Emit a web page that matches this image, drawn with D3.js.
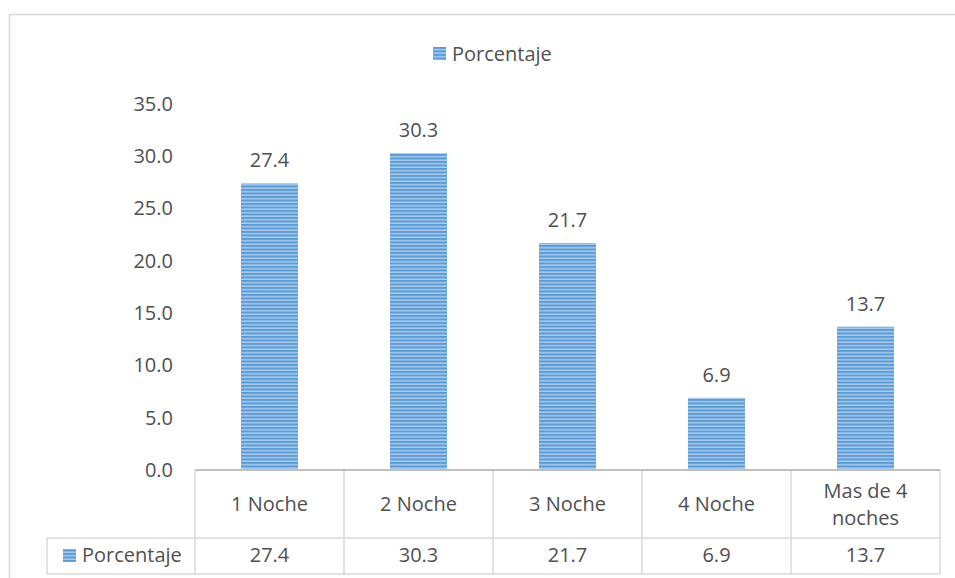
<!DOCTYPE html>
<html>
<head>
<meta charset="utf-8">
<script src="https://cdn.jsdelivr.net/npm/d3@7"></script>
<style>
  html, body { margin: 0; padding: 0; background: #fff; }
  svg { display: block; }
  text { font-family: "Open Sans", Lato, sans-serif; fill: #505050; }
</style>
</head>
<body>
<svg id="chart" width="955" height="578"></svg>
<script>
// Nights stayed, share of respondents (%)
const categories = ["1 Noche", "2 Noche", "3 Noche", "4 Noche", "Mas de 4 noches"];
const categoryLines = [["1 Noche"], ["2 Noche"], ["3 Noche"], ["4 Noche"], ["Mas de 4", "noches"]];
const values = [27.4, 30.3, 21.7, 6.9, 13.7];
const seriesName = "Porcentaje";
const yTicks = [0, 5, 10, 15, 20, 25, 30, 35];

const svg = d3.select("#chart");
const plot = { left: 195, right: 940, top: 104, bottom: 470 };
const tableRow1 = 538, tableBottom = 574, tableLeft = 47;
const gridColor = "#D9D9D9";
const fs = 20;

// Stripe fill for bars
const defs = svg.append("defs");
const pat = defs.append("pattern")
  .attr("id", "stripes").attr("patternUnits", "userSpaceOnUse")
  .attr("width", 8).attr("height", 3.5);
pat.append("rect").attr("width", 8).attr("height", 3.5).attr("fill", "#A9CBEC");
pat.append("rect").attr("width", 8).attr("height", 2).attr("fill", "#5B9BD5");

// Outer chart frame
svg.append("rect")
  .attr("x", 9.5).attr("y", 14.5).attr("width", 960).attr("height", 580)
  .attr("fill", "none").attr("stroke", gridColor).attr("stroke-width", 1.5);

const x = d3.scaleBand().domain(categories).range([plot.left, plot.right]).paddingInner(0).paddingOuter(0);
const y = d3.scaleLinear().domain([0, 35]).range([plot.bottom, plot.top]);

// Legend
const legend = svg.append("g").attr("transform", "translate(433,47)");
legend.append("rect").attr("width", 13).attr("height", 13).attr("fill", "url(#stripes)");
legend.append("text").attr("x", 19).attr("y", 14).attr("font-size", fs).text(seriesName);

// Y axis labels
const yAxis = d3.axisLeft(y).tickValues(yTicks).tickFormat(d3.format(".1f")).tickSize(0).tickPadding(22);
const gy = svg.append("g").attr("transform", `translate(${plot.left},0)`).call(yAxis);
gy.select(".domain").remove();
gy.selectAll("text").attr("font-size", fs).attr("fill", "#505050")
  .style("font-family", '"Open Sans", Lato, sans-serif');

// Bars
const barW = 57;
svg.append("g").selectAll("rect").data(values).join("rect")
  .attr("x", (d, i) => x(categories[i]) + x.bandwidth() / 2 - barW / 2)
  .attr("y", d => y(d))
  .attr("width", barW)
  .attr("height", d => y(0) - y(d))
  .attr("fill", "url(#stripes)");

// Data labels
svg.append("g").selectAll("text").data(values).join("text")
  .attr("x", (d, i) => x(categories[i]) + x.bandwidth() / 2)
  .attr("y", d => y(d) - 16)
  .attr("text-anchor", "middle").attr("font-size", fs)
  .text(d => d.toFixed(1));

// Data table beneath the axis
const table = svg.append("g");
[tableRow1, tableBottom].forEach(yy => {
  table.append("line").attr("x1", tableLeft).attr("x2", plot.right).attr("y1", yy).attr("y2", yy)
    .attr("stroke", gridColor).attr("stroke-width", 1.5);
});
d3.range(categories.length + 1).forEach(i => {
  const xx = i < categories.length ? x(categories[i]) : plot.right;
  table.append("line").attr("x1", xx).attr("x2", xx).attr("y1", plot.bottom).attr("y2", tableBottom)
    .attr("stroke", gridColor).attr("stroke-width", 1.5);
});
table.append("line").attr("x1", tableLeft).attr("x2", tableLeft).attr("y1", tableRow1).attr("y2", tableBottom)
  .attr("stroke", gridColor).attr("stroke-width", 1.5);

// Category axis line
svg.append("line").attr("x1", plot.left).attr("x2", plot.right).attr("y1", plot.bottom).attr("y2", plot.bottom)
  .attr("stroke", "#BFBFBF").attr("stroke-width", 2);

// Category labels
categoryLines.forEach((lines, i) => {
  const cx = x(categories[i]) + x.bandwidth() / 2;
  const t = table.append("text").attr("text-anchor", "middle").attr("font-size", fs);
  const startY = lines.length === 1 ? 511 : 498;
  lines.forEach((ln, j) => t.append("tspan").attr("x", cx).attr("y", startY + j * 27).text(ln));
});

// Values row
table.append("rect").attr("x", 63).attr("y", 549).attr("width", 13).attr("height", 13).attr("fill", "url(#stripes)");
table.append("text").attr("x", 82).attr("y", 562).attr("font-size", fs).text(seriesName);
values.forEach((v, i) => {
  table.append("text").attr("x", x(categories[i]) + x.bandwidth() / 2).attr("y", 562)
    .attr("text-anchor", "middle").attr("font-size", fs).text(v.toFixed(1));
});
</script>
</body>
</html>
